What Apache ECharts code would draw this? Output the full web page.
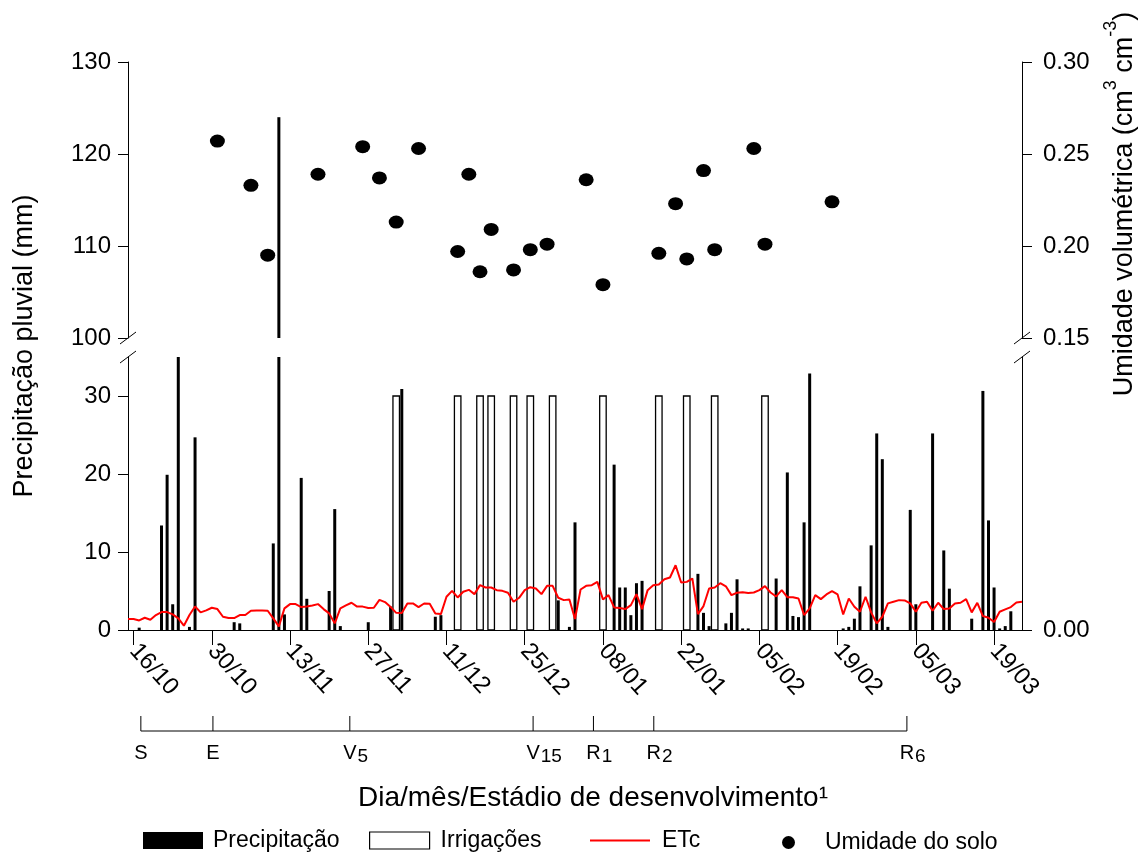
<!DOCTYPE html>
<html><head><meta charset="utf-8">
<script src="https://cdn.jsdelivr.net/npm/echarts@6/dist/echarts.min.js"></script>
<style>html,body{margin:0;padding:0;background:#fff}#c{width:1143px;height:852px}</style>
</head><body><div id="c"></div>
<script>
const FONT = '"Liberation Sans", Arial, Helvetica, sans-serif';

// x axis: day index, 0 = 16/10
const xMin = -1, xMax = 159;
const tickDays = [0, 14, 28, 42, 56, 70, 84, 98, 112, 126, 140, 154];
const tickLabels = ['16/10','30/10','13/11','27/11','11/12','25/12','08/01','22/01','05/02','19/02','05/03','19/03'];

// Precipitation (mm)
const precipDays = [1,5,6,7,8,10,11,18,19,25,26,27,30,31,35,36,37,42,46,48,54,55,76,78,79,86,87,88,89,90,91,101,102,103,106,107,108,109,110,115,117,118,119,120,121,127,128,129,130,132,133,134,135,139,140,143,145,146,150,152,153,154,155,156,157];
const precipValues = [0.3,13.4,19.9,3.3,38,0.4,24.7,1.0,0.85,11.1,124,2.0,19.5,4.0,5.0,15.5,0.5,1.0,3.0,30.9,1.7,1.9,3.8,0.4,13.8,21.2,5.45,5.45,1.9,6.0,6.3,7.2,2.2,0.5,0.85,2.2,6.5,0.2,0.2,6.6,20.2,1.8,1.65,13.8,32.9,0.2,0.4,1.45,5.6,10.85,25.2,21.9,0.4,15.4,3.3,25.2,10.2,5.3,1.45,30.65,14.05,5.45,0.2,0.5,2.4];

// Irrigations (mm)
const irrigationDays = [47,58,62,64,68,71,75,84,94,99,104,113];
const irrigationValues = [30,30,30,30,30,30,30,30,30,30,30,30];

// ETc (mm/day), daily from day -1 to day 159
const etcStartDay = -1;
const etcValues = [
 1.40,1.40,1.23,1.57,1.32,1.92,2.30,2.30,2.00,1.49,
 0.55,1.92,3.02,2.26,2.51,2.85,2.68,1.70,1.53,1.53,
 1.92,1.92,2.47,2.51,2.51,2.47,1.49,0.47,2.77,3.32,
 3.32,2.94,3.00,3.15,3.32,2.68,2.13,0.85,2.77,3.15,
 3.49,3.00,3.00,2.81,2.85,3.87,3.58,2.94,2.20,2.17,
 3.41,3.41,2.94,3.40,3.36,2.13,2.04,4.26,5.02,4.17,
 4.90,5.15,4.60,5.75,5.45,5.45,5.11,5.02,4.77,3.62,
 4.13,5.11,5.49,5.32,4.60,5.66,5.66,4.13,3.83,3.92,
 1.40,5.19,5.66,5.75,6.17,3.92,4.47,2.89,2.81,2.68,
 3.19,4.60,2.68,5.11,5.75,5.83,6.51,6.73,8.30,6.09,
 6.17,6.60,2.04,3.07,5.32,5.45,6.00,5.60,4.47,4.77,
 4.85,4.73,4.81,5.11,5.62,4.81,4.30,5.11,4.21,4.21,
 4.04,1.92,2.77,4.47,3.96,4.56,4.98,4.56,2.00,4.04,
 2.98,2.34,4.26,2.26,0.85,1.70,3.41,3.62,3.83,3.79,
 3.41,2.34,3.49,3.62,2.47,3.49,2.68,2.77,3.41,3.49,
 3.96,2.26,3.49,1.79,1.57,1.02,2.34,2.64,2.94,3.53,
 3.62
];

// Soil moisture (cm3 cm-3)
const soilDays = [15,21,24,33,41,44,47,51,58,60,62,64,68,71,74,81,84,94,97,99,102,104,111,113,125];
const soilValues = [0.257,0.233,0.195,0.239,0.254,0.237,0.213,0.253,0.197,0.239,0.186,0.209,0.187,0.198,0.201,0.236,0.179,0.196,0.223,0.193,0.241,0.198,0.253,0.201,0.224];

// Development stages
const stageDays = [1.3, 14.2, 38.7, 71.5, 82.3, 93.1, 138.4];
const stageLetters = ['S','E','V','V','R','R','R'];
const stageSubs = ['','','5','15','1','2','6'];

const precipData = precipDays.map((d, i) => [d, precipValues[i]]);
const irrigationData = irrigationDays.map((d, i) => [d, irrigationValues[i]]);
const etcData = etcValues.map((v, i) => [etcStartDay + i, v]);
const soilData = soilDays.map((d, i) => [d, soilValues[i]]);
const stageData = stageDays.map((d, i) => [d, i < stageDays.length - 1 ? stageDays[i + 1] : d, i]);

function barRender(width, style) {
  return function (params, api) {
    const d = api.value(0), v = api.value(1);
    const cs = params.coordSys;
    const p0 = api.coord([d, 0]);
    const p1 = api.coord([d, v]);
    const yTop = Math.max(Math.min(p0[1], p1[1]), cs.y);
    const yBot = Math.min(Math.max(p0[1], p1[1]), cs.y + cs.height);
    if (yBot - yTop <= 0.5) return null;
    return { type: 'rect', shape: { x: p0[0] - width / 2, y: yTop, width: width, height: yBot - yTop }, style: style };
  };
}

function stageRender(params, api) {
  const d = api.value(0), next = api.value(1), idx = api.value(2);
  const pb = api.coord([d, 0]);
  const pt = api.coord([d, 1]);
  const pn = api.coord([next, 0]);
  const children = [
    { type: 'line', shape: { x1: pb[0], y1: pb[1], x2: pt[0], y2: pt[1] }, style: { stroke: '#000', lineWidth: 1 } },
    { type: 'line', shape: { x1: pb[0], y1: pb[1], x2: pn[0], y2: pn[1] }, style: { stroke: '#000', lineWidth: 1 } },
    { type: 'text', x: pb[0], y: pb[1] + 12, style: { text: stageLetters[idx], fontSize: 20, fontFamily: FONT, fill: '#000', align: 'center', verticalAlign: 'top' } }
  ];
  if (stageSubs[idx]) {
    const half = stageLetters[idx] === 'R' ? 7.2 : 6.7;
    children.push({ type: 'text', x: pb[0] + half + 1, y: pb[1] + 16, style: { text: stageSubs[idx], fontSize: 19, fontFamily: FONT, fill: '#000', align: 'left', verticalAlign: 'top' } });
  }
  return { type: 'group', children: children };
}

const axisLineStyle = { color: '#000', width: 1 };
const tickLabelStyle = { color: '#000', fontSize: 24, fontFamily: FONT };
const legendText = (pad) => ({ fontSize: 23, fontFamily: FONT, color: '#000', padding: [0, 0, 0, pad] });
// thin horizontal line icon inside a 60x17 box (degenerate points fix the box)
const lineIcon = 'path://M0,0L0,0M0,7.5L60,7.5L60,9.5L0,9.5ZM60,17L60,17';

const chart = echarts.init(document.getElementById('c'));
const option = {
  animation: false,
  backgroundColor: '#fff',
  grid: [
    { left: 128, right: 121, top: 62, height: 276 },
    { left: 128, right: 121, top: 357, height: 273 },
    { left: 128, right: 121, top: 716, height: 15 }
  ],
  xAxis: [
    { type: 'value', gridIndex: 0, min: xMin, max: xMax, show: false },
    { type: 'value', gridIndex: 1, min: xMin, max: xMax,
      axisLine: { show: true, onZero: false, lineStyle: axisLineStyle },
      axisTick: { show: true, length: 15, customValues: tickDays, lineStyle: axisLineStyle },
      axisLabel: { customValues: tickDays, rotate: -48, margin: 17, color: '#000', fontSize: 24, fontFamily: FONT,
        formatter: v => { const i = tickDays.indexOf(Math.round(v)); return i >= 0 ? tickLabels[i] : ''; } },
      splitLine: { show: false } },
    { type: 'value', gridIndex: 2, min: xMin, max: xMax, show: false }
  ],
  yAxis: [
    { type: 'value', gridIndex: 0, position: 'left', min: 100, max: 130, interval: 10,
      axisLine: { show: true, onZero: false, lineStyle: axisLineStyle },
      axisTick: { show: true, length: 10, lineStyle: axisLineStyle },
      axisLabel: Object.assign({ margin: 17 }, tickLabelStyle),
      splitLine: { show: false } },
    { type: 'value', gridIndex: 0, position: 'right', min: 0.15, max: 0.30, interval: 0.05,
      axisLine: { show: true, onZero: false, lineStyle: axisLineStyle },
      axisTick: { show: true, length: 10, lineStyle: axisLineStyle },
      axisLabel: Object.assign({ margin: 21, formatter: v => v.toFixed(2) }, tickLabelStyle),
      splitLine: { show: false } },
    { type: 'value', gridIndex: 1, position: 'left', min: 0, max: 35,
      axisLine: { show: true, onZero: false, lineStyle: axisLineStyle },
      axisTick: { show: true, length: 10, customValues: [0, 10, 20, 30], lineStyle: axisLineStyle },
      axisLabel: Object.assign({ margin: 17, customValues: [0, 10, 20, 30], formatter: v => (v === 35 ? '' : String(v)) }, tickLabelStyle),
      splitLine: { show: false } },
    { type: 'value', gridIndex: 1, position: 'right', min: 0, max: 35,
      axisLine: { show: true, onZero: false, lineStyle: axisLineStyle },
      axisTick: { show: true, length: 10, customValues: [0], lineStyle: axisLineStyle },
      axisLabel: Object.assign({ margin: 21, customValues: [0], formatter: v => (v === 0 ? '0.00' : '') }, tickLabelStyle),
      splitLine: { show: false } },
    { type: 'value', gridIndex: 2, min: 0, max: 1, show: false }
  ],
  legend: [
    { left: 143, top: 829, padding: 0, itemWidth: 60, itemHeight: 17, selectedMode: false,
      textStyle: legendText(5),
      data: [{ name: 'Precipitação', icon: 'rect', itemStyle: { color: '#000', opacity: 1 } }] },
    { left: 369, top: 829, padding: 0, itemWidth: 60, itemHeight: 17, selectedMode: false,
      textStyle: legendText(6),
      data: [{ name: 'Irrigações', icon: 'rect', itemStyle: { color: '#fff', borderColor: '#000', borderWidth: 1.2 } }] },
    { left: 590, top: 829, padding: 0, itemWidth: 60, itemHeight: 17, selectedMode: false,
      textStyle: legendText(7),
      data: [{ name: 'ETc', icon: lineIcon, itemStyle: { color: '#ff0000', opacity: 1, borderWidth: 0 } }] },
    { left: 782, top: 831, padding: 0, itemWidth: 15, itemHeight: 13, selectedMode: false,
      textStyle: legendText(24),
      data: [{ name: 'Umidade do solo', icon: 'circle', itemStyle: { color: '#000', opacity: 1 } }] }
  ],
  series: [
    { name: 'Irrigações', type: 'custom', xAxisIndex: 1, yAxisIndex: 2, z: 2,
      itemStyle: { color: '#fff', borderColor: '#000' },
      renderItem: barRender(6.5, { fill: '#fff', stroke: '#000', lineWidth: 1.3 }),
      data: irrigationData },
    { name: 'Precipitação', type: 'custom', xAxisIndex: 1, yAxisIndex: 2, z: 3,
      itemStyle: { color: '#000' },
      renderItem: barRender(3, { fill: '#000' }),
      data: precipData },
    { name: 'Precipitação', type: 'custom', xAxisIndex: 0, yAxisIndex: 0, z: 3,
      itemStyle: { color: '#000' },
      renderItem: barRender(3, { fill: '#000' }),
      data: precipData },
    { name: 'ETc', type: 'line', xAxisIndex: 1, yAxisIndex: 2, z: 5, symbol: 'none',
      lineStyle: { color: '#ff0000', width: 2 }, itemStyle: { color: '#ff0000' },
      data: etcData },
    { name: 'Umidade do solo', type: 'scatter', xAxisIndex: 0, yAxisIndex: 1, z: 4,
      symbol: 'circle', symbolSize: [15, 13], itemStyle: { color: '#000', opacity: 1 },
      data: soilData },
    { name: 'stages', type: 'custom', xAxisIndex: 2, yAxisIndex: 4, silent: true,
      renderItem: stageRender, data: stageData }
  ]
};
chart.setOption(option);

function px(xi, yi, x, y) { return chart.convertToPixel({ xAxisIndex: xi, yAxisIndex: yi }, [x, y]); }
const breakPts = [px(0, 0, xMin, 100), px(0, 0, xMax, 100), px(1, 2, xMin, 35), px(1, 2, xMax, 35)];
const graphics = breakPts.map(p => ({
  type: 'line', z: 10,
  shape: { x1: p[0] - 8, y1: p[1] + 6, x2: p[0] + 8, y2: p[1] - 6 },
  style: { stroke: '#000', lineWidth: 1 }
}));
graphics.push({ type: 'text', x: 25, y: 346, rotation: Math.PI / 2, z: 10,
  style: { text: 'Precipitação pluvial (mm)', fontSize: 27, fontFamily: FONT, fill: '#000', align: 'center', verticalAlign: 'middle' } });
graphics.push({ type: 'text', x: 1120, y: 204, rotation: Math.PI / 2, z: 10,
  style: { text: '{a|Umidade volumétrica (cm}{s|3}{a| cm}{s|-3}{a|)}', fill: '#000', align: 'center', verticalAlign: 'middle',
    rich: { a: { fontSize: 27, fontFamily: FONT, fill: '#000', lineHeight: 36, verticalAlign: 'bottom' },
            s: { fontSize: 18, fontFamily: FONT, fill: '#000', lineHeight: 16, verticalAlign: 'top' } } } });
graphics.push({ type: 'text', x: 593, y: 798, z: 10,
  style: { text: 'Dia/mês/Estádio de desenvolvimento¹', fontSize: 28, fontFamily: FONT, fill: '#000', align: 'center', verticalAlign: 'middle' } });
chart.setOption({ graphic: graphics });
</script>
</body></html>
